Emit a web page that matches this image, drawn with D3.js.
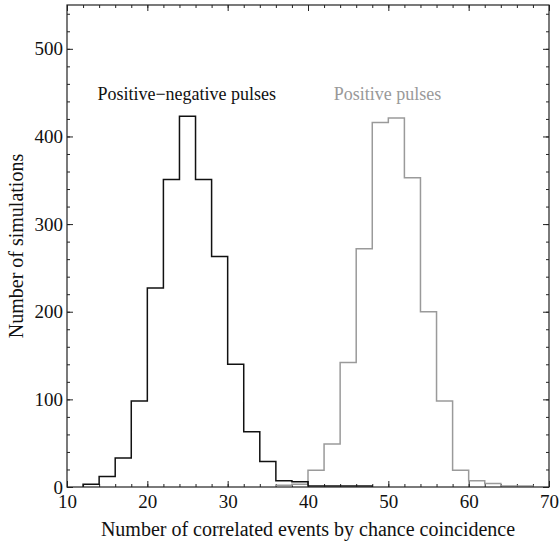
<!DOCTYPE html>
<html><head><meta charset="utf-8">
<script src="https://cdn.jsdelivr.net/npm/d3@7"></script>
<style>body{margin:0;background:#fff}svg{display:block}text{font-family:"Liberation Serif","Times New Roman",serif}</style>
</head><body><svg id="c" width="559" height="548"></svg>
<script>
// bin start positions (width 2)
const binWidth = 2;
const pnBins = [12,14,16,18,20,22,24,26,28,30,32,34,36,38,40,42,44,46];
const pnCounts = [3,12,33,98,227,351,423,351,263,140,63,29,7,6,1,1,1,1];
const posBins = [36,38,40,42,44,46,48,50,52,54,56,58,60,62,64,66];
const posCounts = [2,3,19,49,142,272,416,421,353,200,98,19,7,4,1,1];
const xTicks = [10,20,30,40,50,60,70];
const yTicks = [0,100,200,300,400,500];
const labels = {pn:"Positive\u2212negative pulses", pos:"Positive pulses"};

const W=559,H=548, m={l:67,r:10,t:5,b:61};
const svg=d3.select("#c");
const x=d3.scaleLinear().domain([10,70]).range([m.l,W-m.r]);
const y=d3.scaleLinear().domain([0,550]).range([H-m.b,m.t]);
const g=svg.append("g");

const xMinor=d3.range(10,71,2), yMinor=d3.range(0,551,20);
function tickSet(vals,size){
  [[d3.axisTop(x),`translate(0,${H-m.b})`,vals.x],[d3.axisBottom(x),`translate(0,${m.t})`,vals.x],
   [d3.axisRight(y),`translate(${m.l},0)`,vals.y],[d3.axisLeft(y),`translate(${W-m.r},0)`,vals.y]]
   .forEach(([ax,tr,v])=>{const a=g.append("g").attr("transform",tr);
     a.call(ax.tickValues(v).tickSize(size).tickFormat(""));a.select(".domain").remove();
     a.selectAll("line").attr("stroke","#222");});
}
tickSet({x:xMinor,y:yMinor},3);
tickSet({x:xTicks,y:yTicks},6);

// tick labels
const xl=g.append("g").attr("transform",`translate(0,${H-m.b})`).call(d3.axisBottom(x).tickValues(xTicks).tickSize(0).tickPadding(8).tickFormat(d3.format("d")));
xl.select(".domain").remove();
xl.selectAll("text").attr("font-size",19).attr("fill","#111");
const yl=g.append("g").attr("transform",`translate(${m.l},0)`).call(d3.axisLeft(y).tickValues(yTicks).tickSize(0).tickPadding(4).tickFormat(d3.format("d")));
yl.select(".domain").remove();
yl.selectAll("text").attr("font-size",19).attr("fill","#111");

function stepPts(bins,counts){
  const pts=[[bins[0],0]];
  bins.forEach((b,i)=>pts.push([b,counts[i]]));
  pts.push([bins[bins.length-1]+binWidth,0]);
  return pts;
}
const line=d3.line().x(d=>x(d[0])).y(d=>y(d[1])).curve(d3.curveStepAfter);
g.append("path").attr("d",line(stepPts(posBins,posCounts))).attr("fill","none").attr("stroke","#9a9a9a").attr("stroke-width",1.5);
g.append("path").attr("d",line(stepPts(pnBins,pnCounts))).attr("fill","none").attr("stroke","#111").attr("stroke-width",1.5);

// frame
g.append("rect").attr("x",m.l).attr("y",m.t).attr("width",W-m.l-m.r).attr("height",H-m.t-m.b).attr("fill","none").attr("stroke","#222").attr("stroke-width",1.2);

// annotations
g.append("text").attr("x",x(24.9)).attr("y",y(442)).attr("text-anchor","middle").attr("font-size",18).attr("fill","#111").text(labels.pn);
g.append("text").attr("x",x(49.9)).attr("y",y(442)).attr("text-anchor","middle").attr("font-size",18).attr("fill","#999").text(labels.pos);

// axis titles
g.append("text").attr("x",(m.l+W-m.r)/2).attr("y",H-m.b+49).attr("text-anchor","middle").attr("font-size",20).attr("fill","#111").text("Number of correlated events by chance coincidence");
g.append("text").attr("transform",`translate(23,${(m.t+H-m.b)/2}) rotate(-90)`).attr("text-anchor","middle").attr("font-size",20).attr("fill","#111").text("Number of simulations");
</script></body></html>
